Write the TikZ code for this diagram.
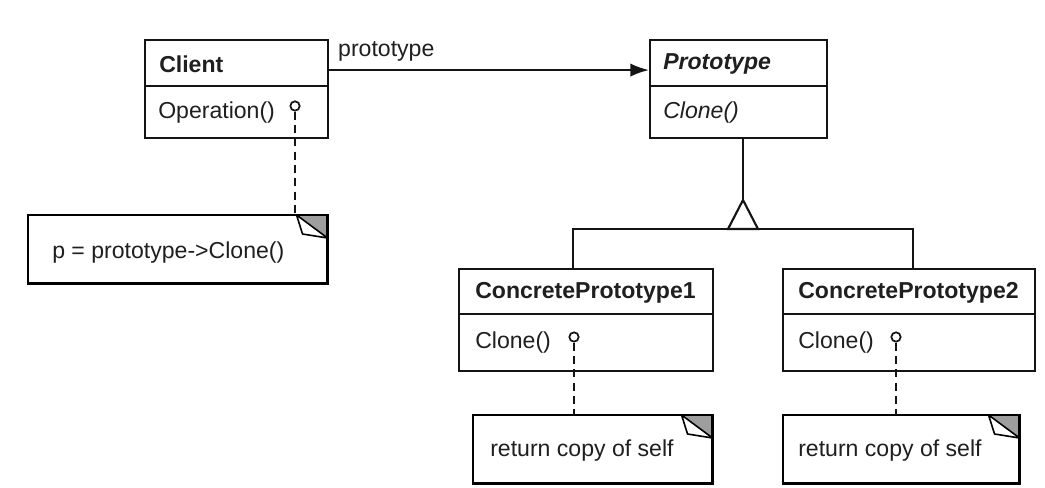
\documentclass[tikz,border=0pt]{standalone}
\usepackage{fontspec}
\setmainfont{Liberation Sans}
\usetikzlibrary{arrows.meta,calc}
\newcommand\dogear[1]{%
  \fill[black!38] ($(#1.north east)+(-31,0)$) -- (#1.north east) -- ($(#1.north east)+(0,23)$) -- cycle;
  \draw[line width=1.2pt, fill=white, line join=round] ($(#1.north east)+(-31,0)$) -- ($(#1.north east)+(-25,19)$) -- ($(#1.north east)+(0,23)$) -- cycle;
  \draw[line width=1.6pt] (#1.north west) rectangle (#1.south east);
}
\begin{document}
\begin{tikzpicture}[x=0.75pt,y=-0.75pt,
  txt/.style={font=\fontsize{17.3}{20}\selectfont, text=black!88},
  comp/.style={draw=black!92, line width=1.6pt, fill=white, anchor=north west, inner sep=0pt},
  lbl/.style={txt, anchor=west, inner sep=0pt},
  notebox/.style={anchor=north west, inner sep=0pt, fill=white},
  circ/.style={circle, draw=black!92, line width=1.3pt, fill=white, minimum size=7pt, inner sep=0pt},
  conn/.style={draw=black!92, line width=1.6pt},
  dashconn/.style={draw=black!92, line width=1.6pt, dash pattern=on 6pt off 4pt}
]
\useasboundingbox[fill=white] (0,0) rectangle (1045,488);

% Client
\node[comp, minimum width=137.25pt, minimum height=34.5pt] (clientH) at (144,39) {};
\node[comp, minimum width=137.25pt, minimum height=39pt] (clientB) at (144,85) {};
\node[lbl] (clientT) at ($(clientH.west)+(15,1)$) {\bfseries Client};
\node[lbl] (clientOp) at ($(clientB.west)+(14,0)$) {Operation()};

% Prototype
\node[comp, minimum width=132.75pt, minimum height=34.5pt] (protoH) at (649,39) {};
\node[comp, minimum width=132.75pt, minimum height=39pt] (protoB) at (649,85) {};
\node[lbl] (protoT) at ($(protoH.west)+(14,1)$) {\bfseries\itshape Prototype};
\node[lbl] (protoOp) at ($(protoB.west)+(14,0)$) {\itshape Clone()};

% ConcretePrototype1
\node[comp, minimum width=190.5pt, minimum height=33.75pt] (cp1H) at (458,268) {};
\node[comp, minimum width=190.5pt, minimum height=42.75pt] (cp1B) at (458,313) {};
\node[lbl] (cp1T) at ($(cp1H.west)+(17,1)$) {\bfseries ConcretePrototype1};
\node[lbl] (cp1Op) at ($(cp1B.west)+(17,0)$) {Clone()};

% ConcretePrototype2
\node[comp, minimum width=189pt, minimum height=33.75pt] (cp2H) at (782,268) {};
\node[comp, minimum width=189pt, minimum height=42.75pt] (cp2B) at (782,313) {};
\node[lbl] (cp2T) at ($(cp2H.west)+(16,1)$) {\bfseries ConcretePrototype2};
\node[lbl] (cp2Op) at ($(cp2B.west)+(16,0)$) {Clone()};

% notes
\node[notebox, minimum width=224.25pt, minimum height=51pt] (n1) at (28,215) {};
\node[notebox, minimum width=179.25pt, minimum height=51pt] (n2) at (473,415) {};
\node[notebox, minimum width=177pt, minimum height=51pt] (n3) at (783,415) {};
\dogear{n1}
\dogear{n2}
\dogear{n3}
\node[lbl] (n1t) at ($(n1.west)+(24,3)$) {p = prototype->Clone()};
\node[lbl] (n2t) at ($(n2.west)+(17,1)$) {return copy of self};
\node[lbl] (n3t) at ($(n3.west)+(15,1)$) {return copy of self};

% circles and dashed note links
\node[circ] (c1) at (295,106) {};
\node[circ] (c2) at (574,337) {};
\node[circ] (c3) at (896,337) {};
\draw[dashconn] (c1.south) -- (c1.south |- n1.north);
\draw[dashconn] (c2.south) -- (c2.south |- n2.north);
\draw[dashconn] (c3.south) -- (c3.south |- n3.north);

% association
\draw[conn, -{Latex[length=14pt,width=10pt]}] ([yshift=-5.25pt]clientH.east) -- ([yshift=-5.25pt]protoH.west)
  node[txt, pos=0, anchor=south west, inner sep=0pt, xshift=6pt, yshift=6pt] {prototype};

% inheritance
\coordinate (apex) at (743,200);
\coordinate (tl) at (728,229);
\coordinate (tr) at (758,229);
\coordinate (j1) at (573,229);
\coordinate (j2) at (913,229);
\draw[conn] (apex |- protoB.south) -- (apex);
\draw[conn, line join=miter] (j1 |- cp1H.north) -- (j1) -- (j2) -- (j2 |- cp2H.north);
\draw[conn, fill=white, line join=miter] (apex) -- (tl) -- (tr) -- cycle;
\end{tikzpicture}
\end{document}
